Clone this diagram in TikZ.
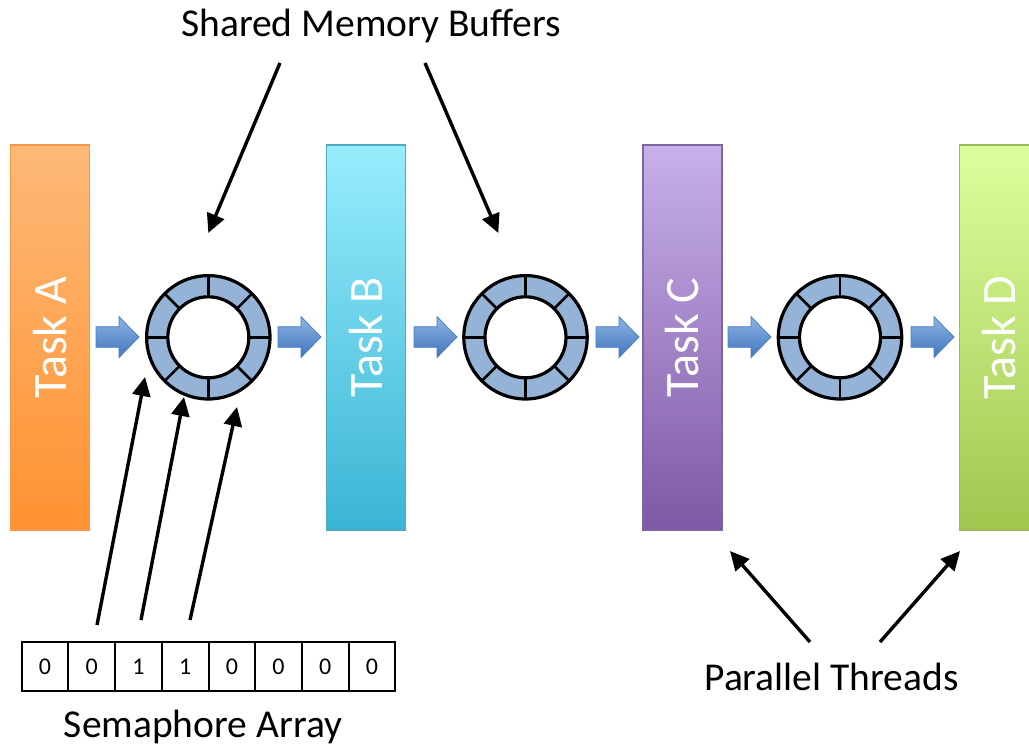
\documentclass[tikz,border=0pt]{standalone}
\usepackage{fontspec}
\setmainfont{Carlito}
\usetikzlibrary{arrows.meta,calc}
\definecolor{ringfill}{HTML}{95B3D7}
\definecolor{arrtop}{HTML}{8EB4E3}
\definecolor{arrbot}{HTML}{3F75BF}
\definecolor{arrline}{HTML}{4A7EBB}
\tikzset{
  taskbox/.style={rectangle, minimum width=79pt, minimum height=385pt, line width=1.2pt, inner sep=0pt},
  tasklabel/.style={text=white, rotate=90, font=\fontsize{48}{48}\selectfont},
  label/.style={font=\fontsize{39.5}{40}\selectfont, anchor=base},
  pointer/.style={line width=3.4pt, -{Triangle[length=19pt,width=18pt]}},
  flowarrow/.style={top color=arrtop, bottom color=arrbot, draw=arrline, line width=0.8pt},
  semcell/.style={rectangle, draw, line width=2pt, minimum width=46.7pt, minimum height=48.5pt, inner sep=0pt, font=\fontsize{24}{24}\selectfont},
  ringnode/.style={circle, minimum size=123.4pt, inner sep=0pt}
}
\newcommand{\drawring}[1]{%
  \fill[ringfill, even odd rule] (#1) circle (61.7pt) (#1) circle (40.5pt);
  \foreach \a in {0,45,...,315} {\draw[line width=2.6pt] ($(#1)+(\a:40.5pt)$) -- ($(#1)+(\a:61.7pt)$);}
  \draw[line width=3.2pt] (#1) circle (61.7pt);
  \draw[line width=3.2pt] (#1) circle (40.5pt);
}
\newcommand{\flowarr}[2]{%
  \coordinate (#2) at (#1,337);
  \draw[flowarrow] ($(#2)+(0,-10.3)$) -- ++(23,0) -- ++(0,-10) -- ($(#2)+(43,0)$) -- ($(#2)+(23,20.5)$) -- ++(0,-10.2) -- ($(#2)+(0,10.3)$) -- cycle;
}
\begin{document}
\begin{tikzpicture}[x=1pt,y=-1pt]
\useasboundingbox (0,0) rectangle (1029,747);
% task bars
\node[taskbox, top color={rgb,255:red,253;green,185;blue,120}, bottom color={rgb,255:red,255;green,146;blue,50}, draw={rgb,255:red,247;green,150;blue,70}] (ta) at (50,337.5) {};
\node[tasklabel] (tal) at (ta) {Task A};
\node[taskbox, top color={rgb,255:red,151;green,237;blue,252}, bottom color={rgb,255:red,59;green,180;blue,213}, draw={rgb,255:red,75;green,172;blue,198}] (tb) at (366,337.5) {};
\node[tasklabel] (tbl) at (tb) {Task B};
\node[taskbox, top color={rgb,255:red,200;green,176;blue,234}, bottom color={rgb,255:red,125;green,89;blue,165}, draw={rgb,255:red,128;green,100;blue,162}] (tc) at (682.5,337.5) {};
\node[tasklabel] (tcl) at (tc) {Task C};
\node[taskbox, top color={rgb,255:red,221;green,255;blue,158}, bottom color={rgb,255:red,160;green,199;blue,78}, draw={rgb,255:red,155;green,187;blue,89}] (td) at (999,337.5) {};
\node[tasklabel] (tdl) at (td) {Task D};
% rings
\node[ringnode] (r1) at (208.3,337.3) {};
\node[ringnode] (r2) at (525.5,337.3) {};
\node[ringnode] (r3) at (840,337.3) {};
\drawring{r1}
\drawring{r2}
\drawring{r3}
% flow arrows
\flowarr{96}{f1}
\flowarr{278}{f2}
\flowarr{414}{f3}
\flowarr{596}{f4}
\flowarr{728}{f5}
\flowarr{911}{f6}
% labels
\node[label] (smb) at (371,36) {Shared Memory Buffers};
\node[label] (sa) at (203,737) {Semaphore Array};
\node[label] (pt) at (831.5,690) {Parallel Threads};
% semaphore array
\foreach \v [count=\i from 0] in {0,0,1,1,0,0,0,0} {
  \node[semcell] (s\i) at ({45.05+46.7*\i},666.5) {\v};
}
% pointers
\coordinate (m1s) at (280,63);
\coordinate (m1e) at (208.3,233);
\coordinate (m2s) at (425,63);
\coordinate (m2e) at (498.3,233);
\draw[pointer] (m1s) -- (m1e);
\draw[pointer] (m2s) -- (m2e);
\coordinate (p1s) at (97,625);
\coordinate (p1e) at (145,377);
\coordinate (p2s) at (141,620);
\coordinate (p2e) at (184,397);
\coordinate (p3s) at (190,620);
\coordinate (p3e) at (237,407);
\draw[pointer] (p1s) -- (p1e);
\draw[pointer] (p2s) -- (p2e);
\draw[pointer] (p3s) -- (p3e);
\coordinate (t1s) at (810,642);
\coordinate (t1e) at (730,551);
\coordinate (t2s) at (880,642);
\coordinate (t2e) at (960,551);
\draw[pointer] (t1s) -- (t1e);
\draw[pointer] (t2s) -- (t2e);
\end{tikzpicture}
\end{document}
